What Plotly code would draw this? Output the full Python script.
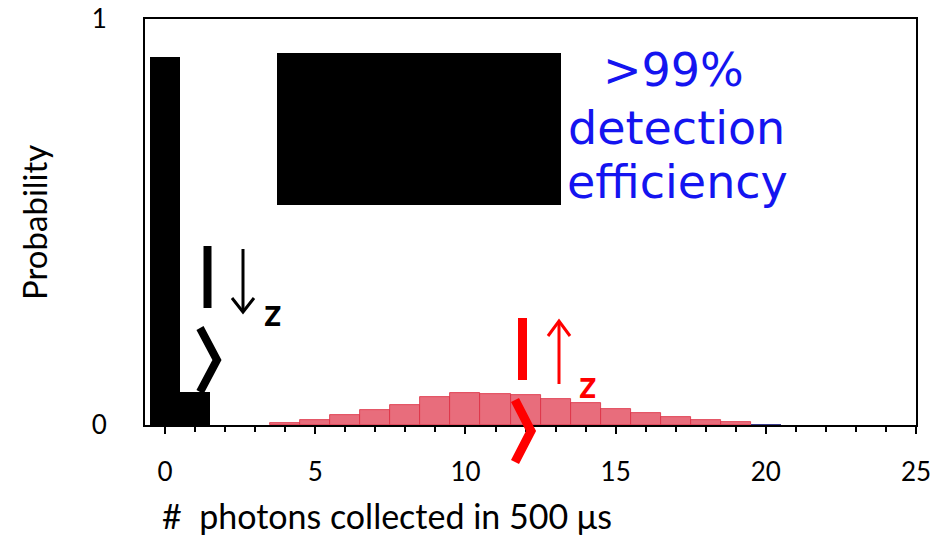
import plotly.graph_objects as go

# ---- data ----
dark_x = [0, 1]
dark_p = [0.906, 0.081]
bright_x = [4, 5, 6, 7, 8, 9, 10, 11, 12, 13, 14, 15, 16, 17, 18, 19]
bright_p = [0.006, 0.012, 0.025, 0.037, 0.049, 0.069, 0.079, 0.077, 0.074,
            0.064, 0.054, 0.040, 0.030, 0.020, 0.012, 0.007]
tail_x = [20]
tail_p = [0.002]
x_ticks = [0, 5, 10, 15, 20, 25]
y_ticks = [0, 1]

W, H = 948, 535
L, R, T, B = 145, 32, 19, 110
PW, PH = W - L - R, H - T - B


def px(x):
    return (x - L) / PW


def py(y):
    return (H - B - y) / PH


fig = go.Figure()
fig.add_trace(go.Bar(x=dark_x, y=dark_p, width=1, marker=dict(color="black", line=dict(width=0))))
fig.add_trace(go.Bar(x=bright_x, y=bright_p, width=1,
                     marker=dict(color="#e86d7c", line=dict(color="#dc2c40", width=0.8))))
fig.add_trace(go.Bar(x=tail_x, y=tail_p, width=1, marker=dict(color="#3a3a8a", line=dict(width=0))))

shapes = []
# redaction box
shapes.append(dict(type="rect", xref="paper", yref="paper", x0=px(277), x1=px(561),
                   y0=py(205), y1=py(53), fillcolor="black", line=dict(width=0), layer="above"))


def line(x0, y0, x1, y1, color, w):
    return dict(type="line", xref="paper", yref="paper", x0=px(x0), y0=py(y0), x1=px(x1), y1=py(y1),
                line=dict(color=color, width=w), layer="above")


def poly(pts, color, w):
    d = "M " + " L ".join(f"{px(a)},{py(b)}" for a, b in pts)
    return dict(type="path", xref="paper", yref="paper", path=d,
                line=dict(color=color, width=w), layer="above")


# black ket |down z>
shapes.append(line(207.5, 246, 207.5, 308, "black", 8))
shapes.append(line(243, 249, 243, 311, "black", 3))
shapes.append(poly([(232, 298), (243, 312), (254, 298)], "black", 3))
shapes.append(poly([(200, 328), (217, 360), (200, 392)], "black", 8))
# red ket |up z>
shapes.append(line(522.5, 318, 522.5, 380, "red", 9))
shapes.append(line(559, 322, 559, 384, "red", 3))
shapes.append(poly([(548, 336), (559, 321), (570, 336)], "red", 3))
shapes.append(poly([(515, 400), (531, 431), (515, 462)], "red", 9))

annotations = []


def text(t, x, y, size, color, family="Lato", angle=0, xanchor="center"):
    annotations.append(dict(text=t, xref="paper", yref="paper", x=px(x), y=py(y), showarrow=False,
                            xanchor=xanchor, yanchor="middle", textangle=angle,
                            font=dict(family=family, size=size, color=color)))


text("<b>z</b>", 272, 311, 38, "black")
text("<b>z</b>", 587, 383, 38, "red")
blue = "#1414f0"
text("&gt;99%", 673, 70, 46, blue, family="DejaVu Sans")
text("detection", 676, 128, 46, blue, family="DejaVu Sans")
text("efficiency", 677, 182, 46, blue, family="DejaVu Sans")
text("#  photons collected in 500 μs", 160, 515, 34, "black", xanchor="left")
text("Probability", 34, 223, 33, "black", angle=-90)

fig.update_layout(
    width=W, height=H, margin=dict(l=L, r=R, t=T, b=B, autoexpand=False),
    paper_bgcolor="white", plot_bgcolor="white",
    barmode="overlay", bargap=0, showlegend=False,
    shapes=shapes, annotations=annotations,
    font=dict(family="Lato", color="black"),
)
fig.update_xaxes(range=[-0.67, 25.0], tickvals=x_ticks, ticks="outside", ticklen=7, tickwidth=2,
                 tickcolor="black", showgrid=False, zeroline=False, showline=True, linecolor="black",
                 linewidth=2, mirror=True, tickfont=dict(size=26, family="Lato"),
                 ticklabelstandoff=16, automargin=False,
                 minor=dict(dtick=1, tick0=0, ticks="outside", ticklen=5, tickwidth=2, tickcolor="black",
                            showgrid=False))
fig.update_yaxes(range=[0, 1.0], tickvals=y_ticks, ticks="", showgrid=False, zeroline=False,
                 showline=True, linecolor="black", linewidth=2, mirror=True, automargin=False,
                 tickfont=dict(size=26, family="Lato"), ticklabelstandoff=31)

fig.write_html("out.html")
